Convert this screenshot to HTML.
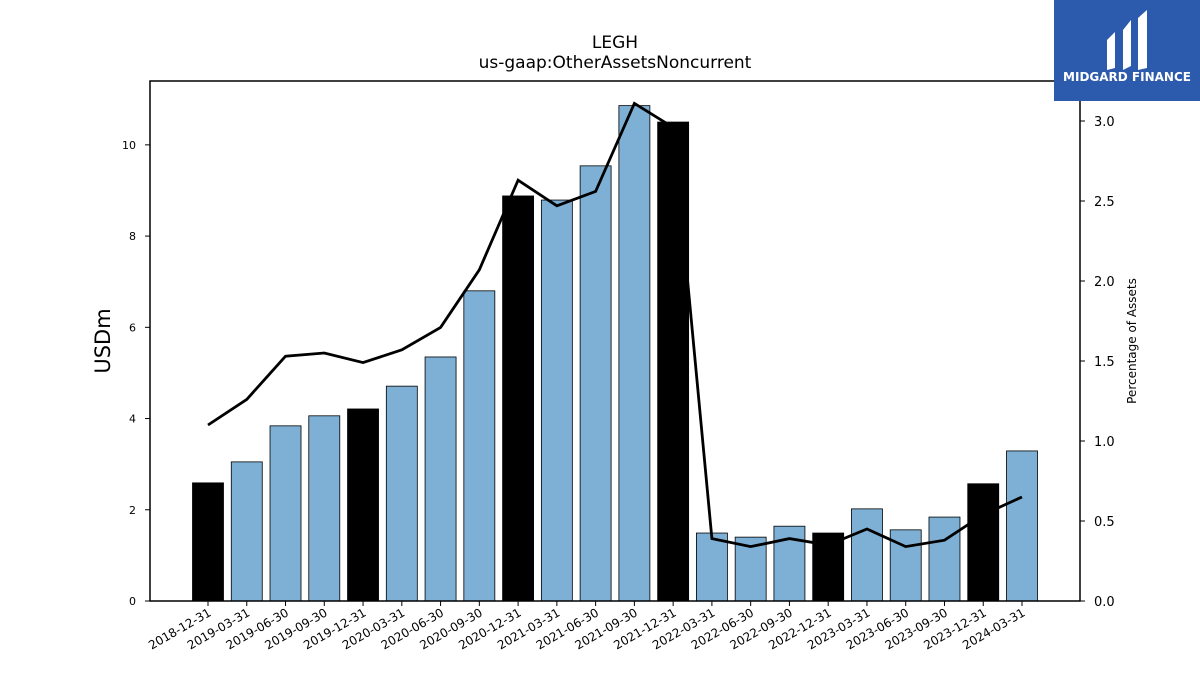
<!DOCTYPE html>
<html><head><meta charset="utf-8"><style>
body{margin:0;background:#fff;font-family:"Liberation Sans","DejaVu Sans",sans-serif}
svg{display:block}
</style></head><body>
<svg id="chart" width="1200" height="675" viewBox="0 0 1200 675" font-family="DejaVu Sans, Liberation Sans, sans-serif">
<text x="615" y="48" text-anchor="middle" font-size="17">LEGH</text>
<text x="615" y="68" text-anchor="middle" font-size="17">us-gaap:OtherAssetsNoncurrent</text>
<text transform="translate(110,341) rotate(-90)" text-anchor="middle" font-size="21">USDm</text>
<text transform="translate(1136,341) rotate(-90)" text-anchor="middle" font-size="12">Percentage of Assets</text>
<g id="bars"></g>
<g id="line"></g>
<g id="axes"></g>
<rect x="150" y="81" width="930" height="520" fill="none" stroke="#000" stroke-width="1.5"/>
<g>
<rect x="1054" y="0" width="146" height="101" fill="#2c5aac"/>
<path d="M1107 40 L1115 32 L1115 68 L1107 70 Z M1123 30 L1131 20 L1131 66 L1123 70 Z M1138 18 L1147 10 L1147 68 L1138 70 Z" fill="#fff"/>
<text x="1127" y="81" text-anchor="middle" font-size="12" font-weight="bold" fill="#fff">MIDGARD FINANCE</text>
</g>
</svg>
<script>
const categories=["2018-12-31","2019-03-31","2019-06-30","2019-09-30","2019-12-31","2020-03-31","2020-06-30","2020-09-30","2020-12-31","2021-03-31","2021-06-30","2021-09-30","2021-12-31","2022-03-31","2022-06-30","2022-09-30","2022-12-31","2023-03-31","2023-06-30","2023-09-30","2023-12-31","2024-03-31"];
const values=[2.59,3.05,3.84,4.06,4.21,4.71,5.35,6.80,8.88,8.79,9.54,10.86,10.50,1.49,1.40,1.64,1.49,2.02,1.56,1.84,2.57,3.29];
const pct=[1.10,1.26,1.53,1.55,1.49,1.57,1.71,2.07,2.63,2.47,2.56,3.11,2.96,0.39,0.34,0.39,0.35,0.45,0.34,0.38,0.54,0.65];
const leftTicks=[0,2,4,6,8,10];
const rightTicks=[0.0,0.5,1.0,1.5,2.0,2.5,3.0];
const NS="http://www.w3.org/2000/svg";
const y0=601,yTop=81,yMax=11.4,y2Max=3.25;
const x=i=>208+i*(1022-208)/21;
const y=v=>y0-v/yMax*(y0-yTop);
const y2=v=>y0-v/y2Max*(y0-yTop);
function mk(t,a,p){const e=document.createElementNS(NS,t);for(const k in a)e.setAttribute(k,a[k]);p.appendChild(e);return e;}
const bars=document.getElementById('bars'),axes=document.getElementById('axes'),line=document.getElementById('line');
values.forEach((v,i)=>{
 const r=mk('rect',{x:x(i)-15.5,y:y(v),width:31,height:y0-y(v),fill:(i%4===0)?'#000':'#7eb0d5',stroke:'#000','stroke-width':0.8},bars);
 
 
 mk('line',{x1:x(i),x2:x(i),y1:y0,y2:y0+5,stroke:'#000'},axes);
 const t=mk('text',{transform:`translate(${x(i)+4},${y0+14}) rotate(-30)`,'text-anchor':'end','font-size':12},axes);
 t.textContent=categories[i];
 
 
});
const pl=mk('polyline',{points:pct.map((v,i)=>x(i)+','+y2(v)).join(' '),fill:'none',stroke:'#000','stroke-width':2.8},line);


leftTicks.forEach(v=>{
 mk('line',{x1:145,x2:150,y1:y(v),y2:y(v),stroke:'#000'},axes);
 const t=mk('text',{x:136,y:y(v)+4,'text-anchor':'end','font-size':11},axes);
 t.textContent=v;
 
 
});
rightTicks.forEach(v=>{
 mk('line',{x1:1080,x2:1085,y1:y2(v),y2:y2(v),stroke:'#000'},axes);
 const t=mk('text',{x:1094,y:y2(v)+5,'font-size':13},axes);
 t.textContent=v.toFixed(1);
 
 
});
</script>
</body></html>
